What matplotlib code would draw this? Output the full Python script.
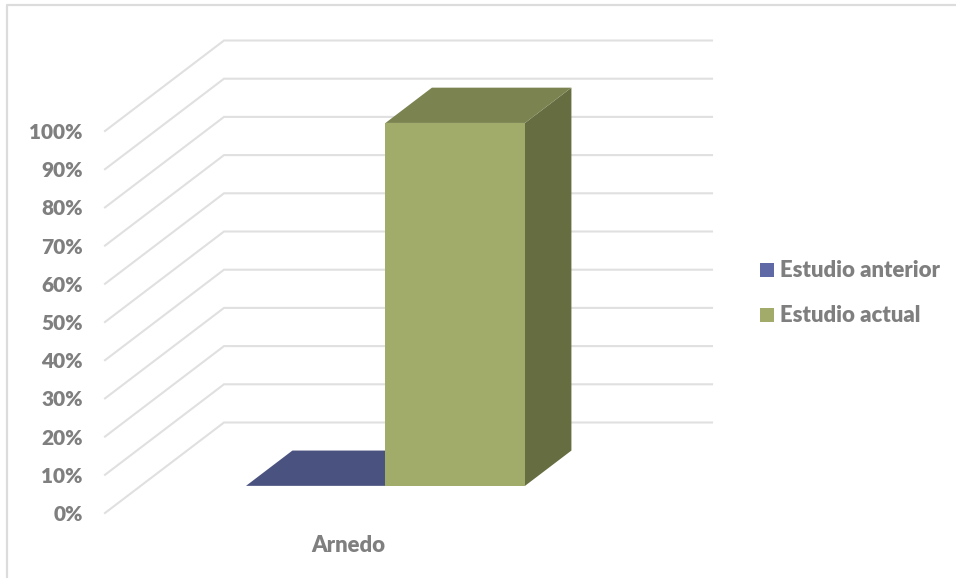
import matplotlib
matplotlib.use("Agg")
import matplotlib.pyplot as plt
from matplotlib.patches import Polygon, Rectangle

plt.rcParams['font.family'] = ['Lato', 'DejaVu Sans']

categories = ['Arnedo']
series_names = ['Estudio anterior', 'Estudio actual']
anterior = [0]
actual = [95]
ticks = [0, 10, 20, 30, 40, 50, 60, 70, 80, 90, 100]

# colours for each series: front, top, side, legend
colors = [('#5b6598', '#4a5280', '#3f4669', '#5f69a6'),
          ('#a1ab6a', '#7b8450', '#666d41', '#a2ab6a')]
TEXT = '#7f7f7f'
GRID = '#e0e0e0'

# oblique "3d" projection, in pixels of the picture
X0, Y0 = 105.0, 513.0     # origin of the floor, front left
PX_PER_CAT = 607.0        # width of the walls
PX_PER_PCT = 3.82
DEPTH_X, DEPTH_Y = 119.0, -90.5


def proj(x, y, z):
    # x: category units, y: percent, z: depth 0..1
    return (X0 + x * PX_PER_CAT + z * DEPTH_X,
            Y0 - y * PX_PER_PCT + z * DEPTH_Y)


def draw_bar(ax, x0, x1, z0, z1, value, cols):
    front, top, side = cols[:3]
    if value > 0:
        ax.add_patch(Polygon([proj(x1, 0, z0), proj(x1, 0, z1), proj(x1, value, z1), proj(x1, value, z0)],
                             facecolor=side, edgecolor='none', zorder=3))
        ax.add_patch(Polygon([proj(x0, 0, z0), proj(x1, 0, z0), proj(x1, value, z0), proj(x0, value, z0)],
                             facecolor=front, edgecolor='none', zorder=4))
    ax.add_patch(Polygon([proj(x0, value, z0), proj(x1, value, z0), proj(x1, value, z1), proj(x0, value, z1)],
                         facecolor=top, edgecolor='none', zorder=3))


fig = plt.figure(figsize=(9.56, 5.78), dpi=100)
ax = fig.add_axes([0, 0, 1, 1])
ax.set_xlim(0, 956)
ax.set_ylim(578, 0)
ax.axis('off')

# chart frame
ax.plot([7.5, 7.5, 956], [578, 4.5, 4.5], color='#dcdcdc', lw=1.6, zorder=1)

# gridlines on the side wall and the back wall
for t in ticks:
    a = proj(0, t, 0)
    b = proj(0, t, 1)
    c = proj(1 - DEPTH_X / PX_PER_CAT, t, 1)
    ax.plot([a[0], b[0], c[0]], [a[1], b[1], c[1]], color=GRID, lw=1.5, zorder=2,
            solid_joinstyle='miter')
    ax.text(83, a[1] + 1.5, f'{t}%', ha='right', va='center', color=TEXT,
            fontsize=15, fontweight='heavy')

# bars
BAR_L = 105.3 / PX_PER_CAT
BAR_W = 139.5 / PX_PER_CAT
Z0, Z1 = 0.3, 0.69
draw_bar(ax, BAR_L, BAR_L + BAR_W, Z0, Z1, anterior[0], colors[0])
draw_bar(ax, BAR_L + BAR_W, BAR_L + 2 * BAR_W, Z0, Z1, actual[0], colors[1])

ax.text(348.5, 545, categories[0], ha='center', va='center', color=TEXT,
        fontsize=15.9, fontweight='heavy')

# legend
for name, cols, y in zip(series_names, colors, [270, 315]):
    ax.add_patch(Rectangle((760, y - 7), 14, 14, facecolor=cols[3], edgecolor='none'))
    ax.text(780, y + 0.5, name, ha='left', va='center', color=TEXT, fontsize=15.9, fontweight='heavy')

fig.savefig('out.png', dpi=100)
